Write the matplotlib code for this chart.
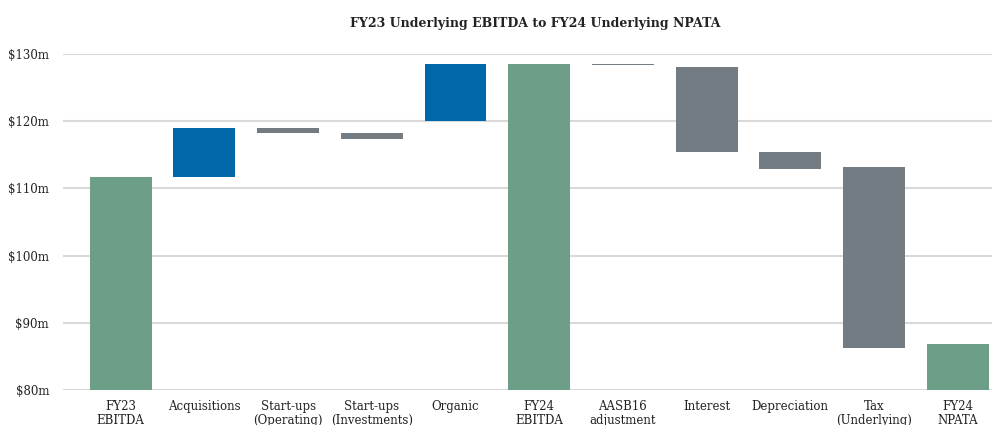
import matplotlib
matplotlib.use("Agg")
import matplotlib.pyplot as plt

categories = ["FY23\nEBITDA", "Acquisitions", "Start-ups\n(Operating)", "Start-ups\n(Investments)",
              "Organic", "FY24\nEBITDA", "AASB16\nadjustment", "Interest", "Depreciation",
              "Tax\n(Underlying)", "FY24\nNPATA"]
bar_start = [80.0, 111.7, 119.0, 118.3, 120.0, 80.0, 128.5, 128.1, 115.4, 113.2, 80.0]
bar_end   = [111.7, 119.0, 118.3, 117.4, 128.5, 128.5, 128.3, 115.4, 112.9, 86.3, 86.8]
kinds     = ["total", "up", "down", "down", "up", "total", "down", "down", "down", "down", "total"]
yticks = [80, 90, 100, 110, 120, 130]
ytick_labels = ["$80m", "$90m", "$100m", "$110m", "$120m", "$130m"]
title = "FY23 Underlying EBITDA to FY24 Underlying NPATA"

colors = {"total": "#6d9e87", "up": "#0068a9", "down": "#737c82"}

plt.rcParams['font.family'] = ['DejaVu Serif']
fig = plt.figure(figsize=(9.92, 4.25), dpi=100)
ax = fig.add_axes([0.0635, 0.0824, 0.9365, 0.7906])

for i, (s, e, k) in enumerate(zip(bar_start, bar_end, kinds)):
    lo, hi = min(s, e), max(s, e)
    ax.bar(i, hi - lo, bottom=lo, width=0.74, color=colors[k], zorder=3)

ax.set_ylim(80, 130)
ax.set_xlim(-0.69, 10.41)
ax.set_yticks(yticks)
ax.set_yticklabels(ytick_labels, fontsize=8.5, color="#222222")
ax.set_xticks(range(len(categories)))
ax.set_xticklabels(categories, fontsize=8.5, color="#222222", linespacing=1.1)
ax.tick_params(axis='both', length=0)
ax.tick_params(axis='y', pad=10)
ax.tick_params(axis='x', pad=7)
for sp in ax.spines.values():
    sp.set_visible(False)
ax.grid(axis='y', color="#d9d9d9", linewidth=1.5, zorder=0)
ax.set_axisbelow(True)

fig.text(0.54, 0.945, title, ha='center', va='center', fontsize=9, fontweight='bold', color="#222222")

fig.savefig("out.png", dpi=100)
